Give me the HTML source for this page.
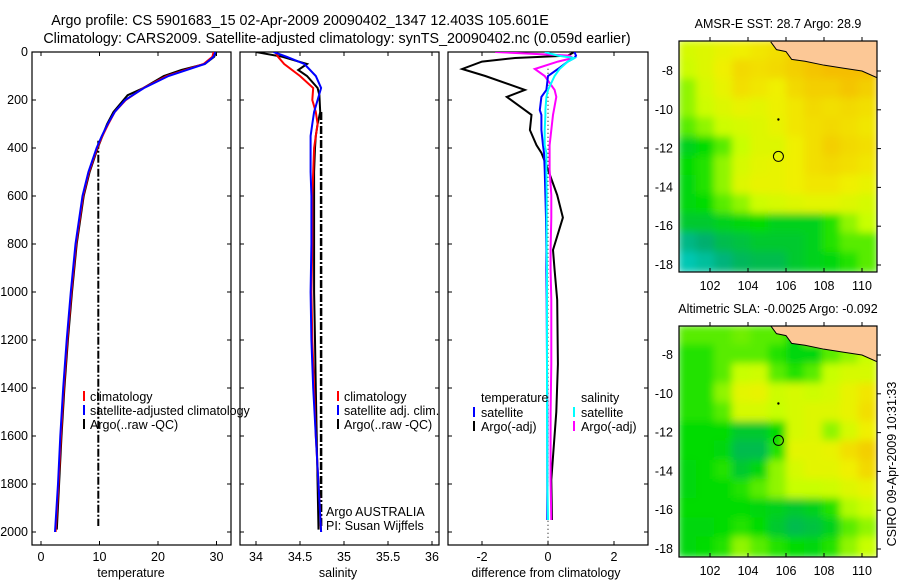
<!DOCTYPE html>
<html><head><meta charset="utf-8"><style>
html,body{margin:0;padding:0;background:#fff;width:900px;height:580px;overflow:hidden}
svg{display:block;font-family:"Liberation Sans",sans-serif}
text{fill:#000}
</style></head><body>
<svg id="fig" width="900" height="580" viewBox="0 0 900 580">
<defs>
<clipPath id="c1"><rect x="679" y="41" width="198" height="231"/></clipPath>
<clipPath id="c2"><rect x="679" y="326" width="198" height="231"/></clipPath>
<filter id="bl" x="-5%" y="-5%" width="110%" height="110%"><feGaussianBlur stdDeviation="4"/></filter>
<clipPath id="p1c"><rect x="32" y="52" width="199" height="493"/></clipPath>
<clipPath id="p2c"><rect x="240" y="52" width="199" height="493"/></clipPath>
<clipPath id="p3c"><rect x="448" y="52" width="200" height="493"/></clipPath>
</defs>
<text x="300" y="25" font-size="14.3" text-anchor="middle">Argo profile: CS 5901683_15 02-Apr-2009 20090402_1347 12.403S 105.601E</text>
<text x="337" y="43" font-size="14.3" text-anchor="middle">Climatology: CARS2009. Satellite-adjusted climatology: synTS_20090402.nc (0.059d earlier)</text>
<g id="g"></g>
</svg>
<script>
// ---- data ----
const tDepth=[0,20,50,100,150,200,250,300,350,400,500,600,800,1000,1200,1400,1600,1800,2000];
const tClim=[29.5,29.3,27.8,21.5,17.5,14.5,12.6,11.5,10.5,9.6,8.2,7.2,6.0,5.2,4.5,3.9,3.4,3.0,2.5];
const tSat=[29.8,29.5,28.0,21.8,17.6,14.4,12.6,11.4,10.4,9.5,8.1,7.1,5.9,5.1,4.4,3.8,3.3,2.9,2.4];
const aDepth=[0,20,50,75,100,150,180,250,300,350,400,500,600,800,1000,1200,1400,1600,1800,1990];
const tArgo=[29.9,29.6,28.0,24.0,21.0,17.5,14.8,12.4,11.3,10.5,9.7,8.3,7.3,6.1,5.3,4.6,4.0,3.5,3.1,2.7];
const tRaw=[9.8,9.8];const rawDepthT=[370,1975];
const sClim=[34.22,34.25,34.32,34.5,34.65,34.64,34.68,34.7,34.68,34.66,34.65,34.64,34.64,34.63,34.64,34.66,34.68,34.71,34.74];
const sSat=[34.2,34.35,34.55,34.68,34.74,34.7,34.66,34.64,34.62,34.62,34.62,34.63,34.63,34.62,34.63,34.65,34.68,34.71,34.74];
const sArgo=[34.0,34.3,34.58,34.48,34.58,34.7,34.72,34.73,34.7,34.68,34.67,34.66,34.66,34.66,34.66,34.67,34.68,34.69,34.7,34.71];
const sRaw=[34.74,34.74];const rawDepthS=[250,1980];
const dDepth=[0,15,25,40,71,100,158,187,242,262,325,388,420,490,596,690,825,908,1033,1300,1500,1783,1950];
const dTempArgo=[0.8,0.6,-1.0,-2.0,-2.6,-1.9,-0.7,-1.25,-0.7,-0.5,-0.55,-0.35,-0.2,0.0,0.28,0.45,0.15,0.2,0.28,0.3,0.25,0.1,0.12];
const dTempSat=[0.8,0.85,0.8,0.6,0.3,0.0,-0.05,-0.2,-0.25,-0.2,-0.2,-0.15,-0.12,-0.1,-0.08,-0.06,-0.05,-0.05,-0.04,-0.03,-0.02,-0.02,-0.02];
const dSalSat=[-0.1,0.3,0.8,0.6,0.35,0.2,0.0,-0.05,-0.08,-0.08,-0.1,-0.1,-0.05,-0.05,-0.04,-0.04,-0.04,-0.03,-0.03,-0.03,-0.03,-0.02,0.0];
const dSalArgo=[-1.6,0.65,0.75,0.3,-0.4,-0.1,0.2,0.25,0.18,0.15,0.1,0.05,0.05,0.05,0.1,0.1,0.08,0.08,0.1,0.1,0.08,0.08,0.1];
const depthTicks=[0,200,400,600,800,1000,1200,1400,1600,1800,2000];
const tTicks=[0,10,20,30];
const sTicks=[34,34.5,35,35.5,36];
const sTickLbl=["34","34.5","35","35.5","36"];
const dTicks=[-2,0,2];
const lonTicks=[102,104,106,108,110];
const latTicks=[-8,-10,-12,-14,-16,-18];
const sstGrid=[
[.65,.68,.72,.75,.78,.8,.85,.9,.95,.98,.95],
[.62,.68,.75,.82,.8,.82,.85,.88,.9,.9,.9],
[.55,.65,.72,.8,.78,.75,.82,.85,.85,.88,.85],
[.55,.62,.68,.72,.7,.74,.78,.82,.8,.82,.8],
[.5,.55,.62,.65,.68,.72,.78,.8,.82,.8,.78],
[.38,.42,.5,.6,.68,.68,.75,.8,.85,.82,.8],
[.42,.45,.55,.65,.7,.72,.75,.8,.82,.8,.78],
[.4,.45,.55,.68,.72,.72,.75,.78,.78,.75,.72],
[.4,.42,.5,.55,.62,.65,.68,.7,.7,.68,.65],
[.35,.35,.38,.4,.42,.38,.38,.38,.45,.55,.6],
[.2,.25,.3,.32,.35,.35,.35,.38,.45,.5,.5],
[.1,.15,.22,.28,.3,.3,.35,.38,.4,.45,.5]];
const slaGrid=[
[.5,.5,.5,.52,.5,.5,.4,.55,.55,.6,.55],
[.45,.45,.5,.5,.5,.45,.4,.4,.5,.55,.6],
[.45,.45,.5,.6,.62,.5,.45,.5,.6,.65,.65],
[.45,.45,.55,.7,.72,.62,.65,.62,.65,.72,.78],
[.45,.45,.5,.65,.65,.6,.65,.68,.68,.72,.8],
[.42,.42,.42,.35,.35,.42,.65,.68,.55,.65,.75],
[.42,.42,.4,.3,.3,.45,.7,.7,.72,.8,.85],
[.4,.42,.45,.35,.4,.55,.65,.7,.7,.75,.82],
[.4,.42,.42,.45,.5,.55,.6,.6,.62,.68,.72],
[.42,.42,.42,.42,.4,.38,.35,.38,.45,.58,.62],
[.4,.4,.42,.45,.42,.35,.3,.32,.38,.5,.55],
[.4,.42,.45,.55,.5,.45,.42,.4,.45,.55,.6]];
const coastLon=[105.2,105.5,106.0,106.3,107.0,108.0,109.0,110.0,110.8];
const coastLat=[-6.5,-6.9,-7.0,-7.4,-7.5,-7.7,-7.85,-8.0,-8.35];
const floatLon=105.601, floatLat=-12.403;

// ---- helpers ----
const NS="http://www.w3.org/2000/svg", G=document.getElementById('g');
function mk(t,a,p){const e=document.createElementNS(NS,t);for(const k in a)e.setAttribute(k,a[k]);(p||G).appendChild(e);return e;}
const Y=d=>52+d*0.24;
const XT=v=>41+v*5.85, XS=v=>256+(v-34)*88, XD=v=>548+v*33;
const LX=l=>710+(l-102)*19;
const LY1=a=>71+(-8-a)*19.4, LY2=a=>355+(-8-a)*19.4;
function pts(xs,ds,fx){return xs.map((v,i)=>fx(v).toFixed(1)+','+Y(ds[i]).toFixed(1)).join(' ');}
function line(xs,ds,fx,col,w,name,clip,dash){
  const e=mk('polyline',{points:pts(xs,ds,fx),fill:'none',stroke:col,'stroke-width':w,'clip-path':'url(#'+clip+')'});
  if(dash)e.setAttribute('stroke-dasharray',dash);
  
  
}
function txt(x,y,s,fs,anc,name){const e=mk('text',{x:x,y:y,'font-size':fs,'text-anchor':anc||'start'});e.textContent=s;
  
  return e;}
function panel(x0,w,name){const r=mk('rect',{x:x0,y:52,width:w,height:493,fill:'none',stroke:'#000','stroke-width':1.2});
  
  
  depthTicks.forEach(d=>{mk('line',{x1:x0,x2:x0+4,y1:Y(d),y2:Y(d),stroke:'#000'});mk('line',{x1:x0+w-4,x2:x0+w,y1:Y(d),y2:Y(d),stroke:'#000'});});}
function xticks(ticks,fx,x0,w,lbls,name){ticks.forEach((t,i)=>{const x=fx(t);
  mk('line',{x1:x,x2:x,y1:545,y2:541,stroke:'#000'});mk('line',{x1:x,x2:x,y1:52,y2:56,stroke:'#000'});
  txt(x,561,lbls?lbls[i]:String(t),12.5,'middle',name);});}

// ---- panel 1 temperature ----
panel(32,199,'temperature-panel');
depthTicks.forEach(d=>txt(28,Y(d)+4,String(d),12.5,'end','depth-tick-label'));
xticks(tTicks,XT,32,199,null,'temperature-tick-label');
txt(131,577,'temperature',12.5,'middle','temperature-axis-title');
line(tRaw,rawDepthT,XT,'#000',2,'temperature-raw-argo','p1c','8,2,2,2');
line(tArgo,aDepth,XT,'#000',2,'temperature-argo','p1c');
line(tClim,tDepth,XT,'#f00',2,'temperature-climatology','p1c');
line(tSat,tDepth,XT,'#00f',2,'temperature-satellite-clim','p1c');
[['#f00','climatology',397],['#00f','satellite-adjusted climatology',411],['#000','Argo(..raw -QC)',425]].forEach(l=>{
  mk('rect',{x:83,y:l[2]-6,width:2,height:10,fill:l[0]});txt(90,l[2]+4,l[1],12.5,'start','temperature-legend-entry');});

// ---- panel 2 salinity ----
panel(240,199,'salinity-panel');
xticks(sTicks,XS,240,199,sTickLbl,'salinity-tick-label');
txt(338,577,'salinity',12.5,'middle','salinity-axis-title');
line(sRaw,rawDepthS,XS,'#000',2.5,'salinity-raw-argo','p2c','8,2,2,2');
line(sArgo,aDepth,XS,'#000',2,'salinity-argo','p2c');
line(sClim,tDepth,XS,'#f00',2,'salinity-climatology','p2c');
line(sSat,tDepth,XS,'#00f',2,'salinity-satellite-clim','p2c');
[['#f00','climatology',397],['#00f','satellite adj. clim.',411],['#000','Argo(..raw -QC)',425]].forEach(l=>{
  mk('rect',{x:337,y:l[2]-6,width:2,height:10,fill:l[0]});txt(344,l[2]+4,l[1],12.5,'start','salinity-legend-entry');});
txt(326,516,'Argo AUSTRALIA',12.5,'start','institution-label');
txt(326,530,'PI: Susan Wijffels',12.5,'start','pi-label');

// ---- panel 3 difference ----
panel(448,200,'difference-panel');
xticks(dTicks,XD,448,200,null,'difference-tick-label');
txt(546,577,'difference from climatology',12.5,'middle','difference-axis-title');
mk('line',{x1:XD(0),x2:XD(0),y1:Y(70),y2:545,stroke:'#000','stroke-dasharray':'1,3'});
line(dTempArgo,dDepth,XD,'#000',2,'diff-temperature-argo','p3c');
line(dSalArgo,dDepth,XD,'#f0f',2,'diff-salinity-argo','p3c');
line(dTempSat,dDepth,XD,'#00f',2,'diff-temperature-satellite','p3c');
line(dSalSat,dDepth,XD,'#0ff',2,'diff-salinity-satellite','p3c');
txt(481,402,'temperature',12.5,'start','difference-legend-header');
txt(581,402,'salinity',12.5,'start','difference-legend-header');
[['#00f','satellite',473,416],['#000','Argo(-adj)',473,430],['#0ff','satellite',573,416],['#f0f','Argo(-adj)',573,430]].forEach(l=>{
  mk('rect',{x:l[2],y:l[3]-9,width:2,height:10,fill:l[0]});txt(l[2]+8,l[3]+1,l[1],12.5,'start','difference-legend-entry');});

// ---- maps ----
function cmap(v){const st=[[0,[0,215,225]],[.25,[0,175,110]],[.42,[0,220,0]],[.6,[200,255,0]],[.75,[240,240,0]],[.9,[245,190,0]],[1,[215,100,0]]];
  for(let i=1;i<st.length;i++){if(v<=st[i][0]){const a=st[i-1],b=st[i],t=(v-a[0])/(b[0]-a[0]);
    return 'rgb('+a[1].map((c,j)=>Math.round(c+(b[1][j]-c)*t)).join(',')+')';}}return 'rgb(215,100,0)';}
function map(grid,y0,LY,clip,name,title){
  const g=mk('g',{'clip-path':'url(#'+clip+')'});
  
  
  const inner=mk('g',{filter:'url(#bl)'},g);
  const rows=grid.length,cols=grid[0].length,cw=198/cols,ch=231/rows;
  grid.forEach((row,r)=>row.forEach((v,c)=>mk('rect',{x:679+c*cw-1,y:y0+r*ch-1,width:cw+2,height:ch+2,fill:cmap(v)},inner)));
  let p=coastLon.map((l,i)=>LX(l)+','+LY(coastLat[i])).join(' ');
  mk('polygon',{points:p+' 880,'+(y0-2)+' '+LX(105.2)+','+(y0-2),fill:'#fcc896',stroke:'none'},g);
  mk('polyline',{points:p,fill:'none',stroke:'#000','stroke-width':1},g);
  const fl=mk('circle',{cx:LX(floatLon),cy:LY(floatLat),r:5,fill:'none',stroke:'#000','stroke-width':1});
  
  
  mk('circle',{cx:LX(105.6),cy:LY(-10.5),r:1.2,fill:'#000'});
  mk('rect',{x:679,y:y0,width:198,height:231,fill:'none',stroke:'#000','stroke-width':1.2});
  lonTicks.forEach(l=>{mk('line',{x1:LX(l),x2:LX(l),y1:y0,y2:y0-4,stroke:'#000'});mk('line',{x1:LX(l),x2:LX(l),y1:y0+231,y2:y0+227,stroke:'#000'});
    txt(LX(l),y0+249,String(l),12.5,'middle','longitude-tick-label');});
  latTicks.forEach(a=>{mk('line',{x1:877,x2:881,y1:LY(a),y2:LY(a),stroke:'#000'});
    txt(673,LY(a)+4,String(a),12.5,'end','latitude-tick-label');});
  txt(778,y0-13,title,12.5,'middle','map-title');
}
map(sstGrid,41,LY1,'c1','sst-map','AMSR-E SST: 28.7 Argo: 28.9');
map(slaGrid,326,LY2,'c2','sla-map','Altimetric SLA: -0.0025 Argo: -0.092');
const cs=txt(0,0,'CSIRO 09-Apr-2009 10:31:33',12.5,'middle','timestamp-label');
cs.setAttribute('transform','translate(896,464) rotate(-90)');
</script>
</body></html>
